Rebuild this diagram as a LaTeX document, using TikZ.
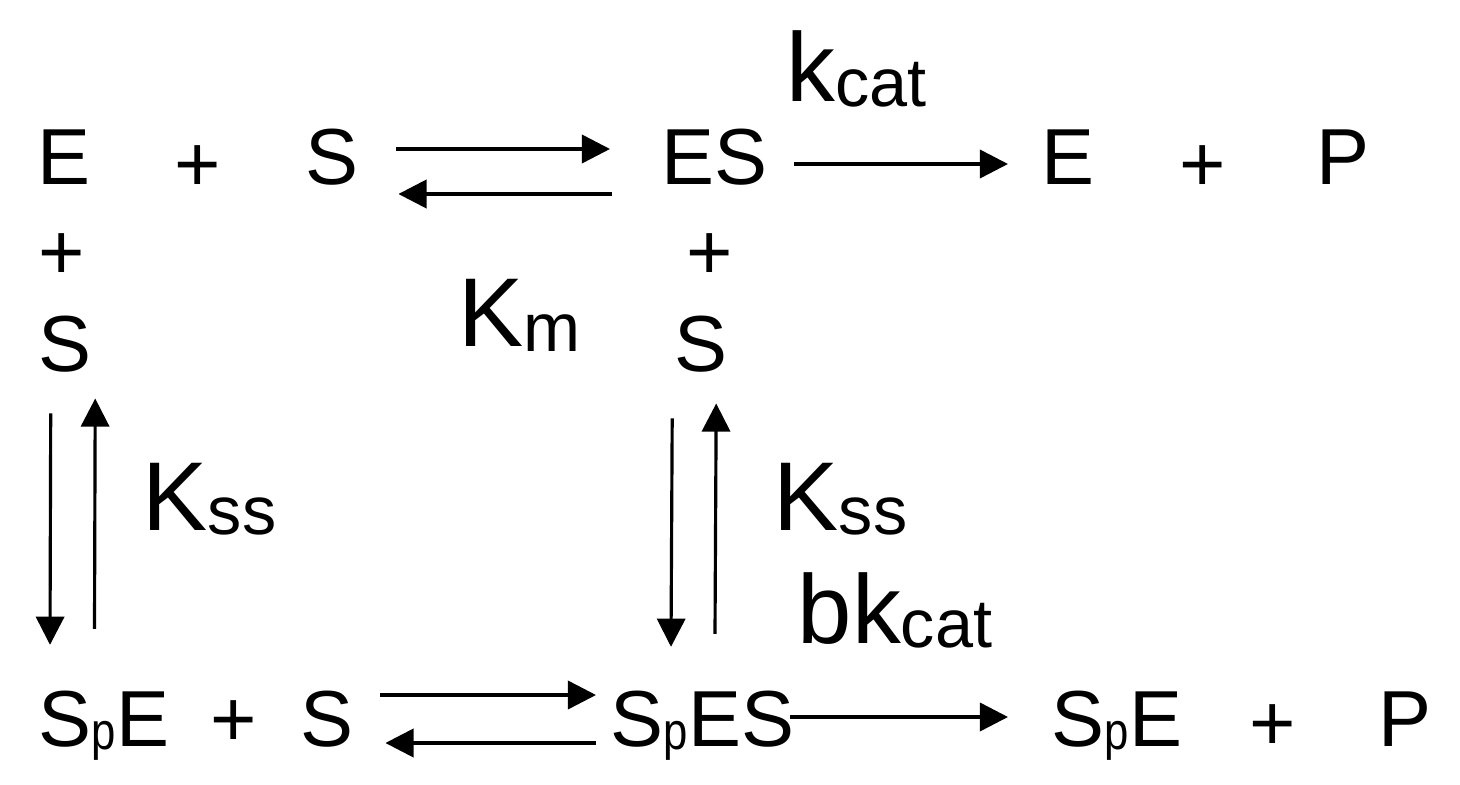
\documentclass[tikz,border=0pt]{standalone}
\usepackage{graphicx}
\usepackage{fontspec}
\setmainfont{Liberation Sans}
\usetikzlibrary{arrows.meta}
\newcommand{\lowtx}[2][0.7]{\raisebox{-0.045em}{\scalebox{#1}{#2}}}
\newcommand{\lowsp}[1]{\raisebox{-0.05em}{\scalebox{0.55}[0.66]{#1}}}
\tikzset{
  spc/.style={inner sep=0pt, anchor=base west, font=\fontsize{22.6}{27}\selectfont},
  lbl/.style={inner sep=0pt, anchor=base west, font=\fontsize{27.8}{33}\selectfont},
  rxn/.style={line width=1pt, -{Triangle[length=8pt,width=8pt]}},
  rxnv/.style={rxn, line width=0.9pt}
}
\begin{document}
\begin{tikzpicture}[x=0.01cm, y=-0.01cm]
  \useasboundingbox (0,0) rectangle (1460,785);
  \foreach \n/\x/\y/\t in {E1/37/185/E, pl1/174/192/+, S1/304.5/185/S, ES/661/185/ES, E2/1041/185/E, pl2/1179/192/+, P1/1316/185/P,
      pl3/38/280/+, pl4/686/280/+, S3L/38/371/S, S3R/674/371/S,
      SpE1/38/746/S\lowsp{p}E, pl5/210/746/+, S4/299.5/746/S, SpES/610/746/S\lowsp{p}ES, SpE2/1051/746/S\lowsp{p}E, pl6/1249/750/+, P2/1378/746/P}{
    \node[spc](\n) at (\x,\y){\t};
  }
  \node[lbl](kc) at (786,102){k\lowtx{cat}};
  \node[lbl](Km) at (458,347){K\lowtx{m}};
  \node[lbl](KssL) at (142,530){K\lowtx{ss}};
  \node[lbl](KssR) at (773,530){K\lowtx{ss}};
  \node[lbl](bkc) at (797,643){bk\lowtx{cat}};
  \draw[rxn]([shift={(37.5,-36)}]S1.base east)--([shift={(-51,-36)}]ES.base west);
  \draw[rxn]([shift={(-49,9)}]ES.base west)--([shift={(39.5,9)}]S1.base east);
  \draw[rxn]([shift={(26,-21)}]ES.base east)--([shift={(-33,-21)}]E2.base west);
  \draw[rxn]([shift={(26.5,-51)}]S4.base east)--([shift={(-14,-51)}]SpES.base west);
  \draw[rxn]([shift={(-14,-3)}]SpES.base west)--([shift={(31.5,-3)}]S4.base east);
  \draw[rxn]([shift={(-4.5,-29)}]SpES.base east)--([shift={(-43,-29)}]SpE2.base west);
  \draw[rxnv]([shift={(-14.5,41)}]S3L.south)--([shift={(12,-45)}]SpE1.north west);
  \draw[rxnv]([shift={(56.5,-61)}]SpE1.north west)--([shift={(30,26)}]S3L.south);
  \draw[rxnv]([shift={(-29,46)}]S3R.south)--([shift={(61,-43)}]SpES.north west);
  \draw[rxnv]([shift={(105,-56)}]SpES.north west)--([shift={(15,31)}]S3R.south);
\end{tikzpicture}
\end{document}
